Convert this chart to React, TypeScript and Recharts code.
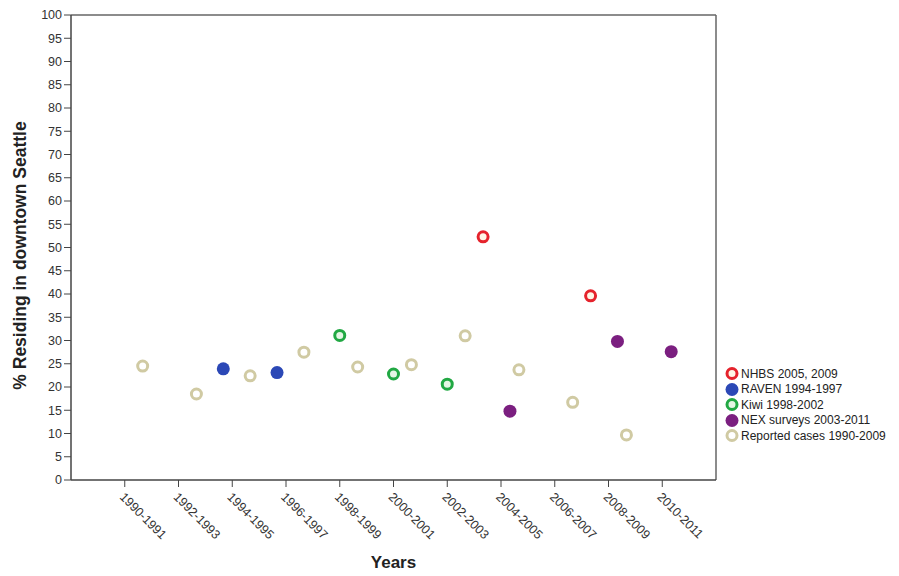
import React from "react";
import { ScatterChart, Scatter, XAxis, YAxis, ReferenceLine } from "recharts";

// two-year bins shown on the x axis
const bins = ["1990-1991", "1992-1993", "1994-1995", "1996-1997", "1998-1999", "2000-2001",
  "2002-2003", "2004-2005", "2006-2007", "2008-2009", "2010-2011"];

// % residing in downtown Seattle, one value per bin (null = no survey)
const nhbs = [null, null, null, null, null, null, null, 52.3, null, 39.6, null];
const raven = [null, null, 23.9, 23.1, null, null, null, null, null, null, null];
const kiwi = [null, null, null, null, 31.1, 22.8, 20.6, null, null, null, null];
const nex = [null, null, null, null, null, null, null, 14.8, null, 29.8, 27.6];
const reported = [24.5, 18.5, 22.4, 27.5, 24.3, 24.8, 31.0, 23.7, 16.7, 9.7, null];

const yTicks = [0, 5, 10, 15, 20, 25, 30, 35, 40, 45, 50, 55, 60, 65, 70, 75, 80, 85, 90, 95, 100];

const series = [
  { name: "NHBS 2005, 2009", values: nhbs, color: "#e5232c", inner: "#fff6e6", ring: true },
  { name: "RAVEN 1994-1997", values: raven, color: "#2b48b6", inner: "", ring: false },
  { name: "Kiwi 1998-2002", values: kiwi, color: "#21a843", inner: "#e4f6e4", ring: true },
  { name: "NEX surveys 2003-2011", values: nex, color: "#7b1f80", inner: "", ring: false },
  { name: "Reported cases 1990-2009", values: reported, color: "#d0caa3", inner: "#ffffff", ring: true },
];

const binStart = (label: string) => parseInt(label, 10);

// SPSS style clustering: each series shifted a third of a year
function points(values: (number | null)[], idx: number) {
  const shift = (idx - 2) / 3;
  return bins
    .map((b, i) => ({ x: binStart(b) + shift, y: values[i], bin: b }))
    .filter((p) => p.y !== null);
}

const font = "Arial, 'Liberation Sans', sans-serif";

function marker(s: typeof series[number]) {
  return (props: any) => {
    const { cx, cy } = props;
    if (s.ring) {
      return <circle cx={cx} cy={cy} r={5} fill={s.inner} stroke={s.color} strokeWidth={3} />;
    }
    return <circle cx={cx} cy={cy} r={6.5} fill={s.color} />;
  };
}

function XTick(props: any) {
  const { x, y, payload } = props;
  const label = bins.find((b) => binStart(b) === payload.value) || "";
  return (
    <text x={x - 3} y={y + 6} transform={`rotate(45, ${x - 3}, ${y + 6})`} fontSize={12.5}
      fontFamily={font} fill="#333" textAnchor="start" dy="0.3em">
      {label}
    </text>
  );
}

function YLabel(props: any) {
  const { viewBox } = props;
  const cy = viewBox.y + viewBox.height / 2 + 8;
  return (
    <text x={20} y={cy} transform={`rotate(-90, 20, ${cy})`} textAnchor="middle" dominantBaseline="central"
      fontSize={17.5} fontWeight="bold" fontFamily={font} fill="#222">
      % Residing in downtown Seattle
    </text>
  );
}

export default function App() {
  return (
    <div style={{ position: "absolute", left: 0, top: 0, width: 899, height: 576, background: "#fff" }}>
      <ScatterChart width={899} height={576} margin={{ top: 15, right: 183, bottom: 0, left: 0 }}>
        <XAxis type="number" dataKey="x" domain={[1988, 2012]} ticks={bins.map(binStart)}
          interval={0} height={96} tick={<XTick />} tickSize={7}
          axisLine={{ stroke: "#444", strokeWidth: 1.5 }} tickLine={{ stroke: "#444" }}
          label={{ value: "Years", position: "insideBottom", offset: 8, fontSize: 17, fontWeight: "bold",
            fontFamily: font, fill: "#222" }} />
        <YAxis type="number" dataKey="y" domain={[0, 100]} ticks={yTicks} interval={0} width={71}
          tickSize={7} tick={{ fontSize: 12.5, fontFamily: font, fill: "#333" }}
          axisLine={{ stroke: "#444", strokeWidth: 1.5 }} tickLine={{ stroke: "#444" }}
          label={<YLabel />} />
        <ReferenceLine y={100} stroke="#666" strokeWidth={1.5} />
        <ReferenceLine x={2012} stroke="#666" strokeWidth={1.5} />
        {series.map((s, i) => (
          <Scatter key={s.name} name={s.name} data={points(s.values, i)} shape={marker(s)}
            isAnimationActive={false} />
        ))}
      </ScatterChart>
      <div style={{ position: "absolute", left: 724, top: 366, fontFamily: font, fontSize: 12, color: "#222" }}>
        {series.map((s) => (
          <div key={s.name} style={{ display: "flex", alignItems: "center", height: 15.5 }}>
            <svg width={16} height={15} style={{ marginRight: 1 }}>
              {s.ring ? (
                <circle cx={8} cy={7.5} r={5} fill={s.inner} stroke={s.color} strokeWidth={3} />
              ) : (
                <circle cx={8} cy={7.5} r={6.5} fill={s.color} />
              )}
            </svg>
            <span>{s.name}</span>
          </div>
        ))}
      </div>
    </div>
  );
}
